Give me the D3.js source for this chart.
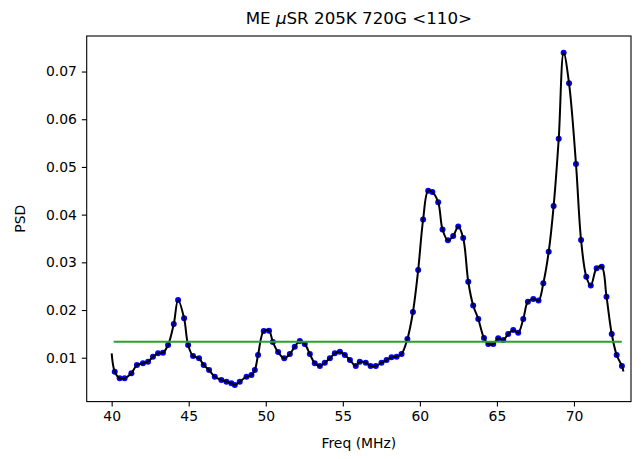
<!DOCTYPE html>
<html><head><meta charset="utf-8">
<script src="https://cdn.jsdelivr.net/npm/d3@7"></script>
<style>
body{margin:0;background:#fff}
svg{display:block}
text{font-family:"DejaVu Sans",sans-serif;fill:#000}
</style>
</head><body>
<svg id="c" width="644" height="459"></svg>
<script>
// Measured spectrum points (frequency in MHz, PSD)
const freq = [40.20,40.52,40.84,41.28,41.64,42.03,42.36,42.68,43.01,43.33,
  43.66,44.03,44.31,44.70,44.96,45.28,45.67,45.97,46.32,46.69,
  47.12,47.45,47.77,47.99,48.31,48.75,49.07,49.29,49.50,49.87,
  50.21,50.46,50.80,51.20,51.56,51.88,52.21,52.53,52.86,53.18,
  53.51,53.83,54.16,54.48,54.81,55.13,55.46,55.84,56.10,56.49,
  56.80,57.14,57.51,57.84,58.16,58.49,58.81,59.19,59.55,59.89,
  60.21,60.54,60.81,61.19,61.47,61.82,62.16,62.49,62.81,63.14,
  63.46,63.79,64.16,64.44,64.76,65.08,65.41,65.73,66.06,66.38,
  66.71,67.01,67.36,67.70,68.01,68.36,68.68,69.01,69.33,69.68,
  70.13,70.46,70.80,71.09,71.47,71.80,72.11,72.45,72.77,73.11];
const psd = [0.00707,0.00568,0.00568,0.00673,0.00847,0.00883,0.00916,0.01021,0.01092,0.01105,
  0.01266,0.01707,0.02210,0.01826,0.01266,0.01036,0.00987,0.00847,0.00742,0.00602,
  0.00532,0.00497,0.00463,0.00428,0.00497,0.00602,0.00637,0.00742,0.01057,0.01560,
  0.01566,0.01329,0.01119,0.00987,0.01078,0.01231,0.01350,0.01287,0.01078,0.00883,
  0.00826,0.00895,0.00987,0.01092,0.01126,0.01057,0.00952,0.00826,0.00916,0.00895,
  0.00826,0.00826,0.00895,0.00952,0.01008,0.01021,0.01078,0.01392,0.01958,0.02839,
  0.03897,0.04501,0.04474,0.04258,0.03688,0.03461,0.03551,0.03751,0.03509,0.02593,
  0.02094,0.01811,0.01413,0.01287,0.01287,0.01407,0.01371,0.01497,0.01581,0.01524,
  0.01811,0.02174,0.02231,0.02199,0.02560,0.03222,0.04180,0.05591,0.07394,0.06753,
  0.05061,0.03468,0.02698,0.02514,0.02874,0.02908,0.02279,0.01497,0.01057,0.00826];
// Smooth-curve end points (beyond the measured points)
const curveStartFreq = [40.0], curveStartPsd = [0.0109];
const curveEndFreq = [73.21], curveEndPsd = [0.0071];
// Horizontal threshold line
const thresholdFreq = [40.13, 73.10];
const thresholdPsd = [0.01335, 0.01335];
// Axes
const xTicks = [40,45,50,55,60,65,70];
const yTicks = [0.01,0.02,0.03,0.04,0.05,0.06,0.07];
const xDomain = [38.38, 73.70];
const yDomain = [0.0008, 0.07745];

const L = 86.7, R = 631, T = 36, B = 401.6;
const svg = d3.select("#c");
const x = d3.scaleLinear().domain(xDomain).range([L, R]);
const y = d3.scaleLinear().domain(yDomain).range([B, T]);

const pts = freq.map((f,i)=>({f, v: psd[i]}));
const curvePts = curveStartFreq.map((f,i)=>({f, v: curveStartPsd[i]}))
  .concat(pts)
  .concat(curveEndFreq.map((f,i)=>({f, v: curveEndPsd[i]})));

const plot = svg.append("g");
// blue points
plot.selectAll("circle").data(pts).enter().append("circle")
  .attr("cx", d=>x(d.f)).attr("cy", d=>y(d.v)).attr("r", 3.0)
  .attr("fill", "#0000ff");
// black smooth curve
const line = d3.line().x(d=>x(d.f)).y(d=>y(d.v)).curve(d3.curveCatmullRom.alpha(0.5));
plot.append("path").datum(curvePts).attr("d", line)
  .attr("fill","none").attr("stroke","#000").attr("stroke-width",2.0)
  .attr("stroke-linejoin","round");
// green threshold
const thr = thresholdFreq.map((f,i)=>({f, v: thresholdPsd[i]}));
plot.append("path").datum(thr).attr("d", d3.line().x(d=>x(d.f)).y(d=>y(d.v)))
  .attr("fill","none").attr("stroke","#2ca02c").attr("stroke-width",2.0);

// axes
const fs = "13.9px";
const xAxis = d3.axisBottom(x).tickValues(xTicks).tickFormat(d3.format("d"))
  .tickSize(4.9).tickPadding(4.9);
const gx = svg.append("g").attr("transform",`translate(0,${B})`).call(xAxis);
gx.select(".domain").remove();
gx.selectAll("text").style("font-size",fs).style("font-family","DejaVu Sans");
gx.selectAll("line").attr("stroke","#000").attr("stroke-width",1.1);

const yAxis = d3.axisLeft(y).tickValues(yTicks).tickFormat(d3.format(".2f"))
  .tickSize(4.9).tickPadding(4.9);
const gy = svg.append("g").attr("transform",`translate(${L},0)`).call(yAxis);
gy.select(".domain").remove();
gy.selectAll("text").style("font-size",fs).style("font-family","DejaVu Sans");
gy.selectAll("line").attr("stroke","#000").attr("stroke-width",1.1);

// frame
svg.append("rect").attr("x",L).attr("y",T).attr("width",R-L).attr("height",B-T)
  .attr("fill","none").attr("stroke","#000").attr("stroke-width",1.1);

// labels
svg.append("text").attr("x",(L+R)/2).attr("y",448).attr("text-anchor","middle")
  .style("font-size",fs).text("Freq (MHz)");
svg.append("text").attr("transform",`translate(25,${(T+B)/2}) rotate(-90)`)
  .attr("text-anchor","middle").style("font-size",fs).text("PSD");
const title = svg.append("text").attr("x",(L+R)/2).attr("y",24).attr("text-anchor","middle")
  .style("font-size","16.7px");
title.append("tspan").text("ME ");
title.append("tspan").style("font-style","italic").text("\u03bc");
title.append("tspan").text("SR 205K 720G <110>");
</script>
</body></html>
